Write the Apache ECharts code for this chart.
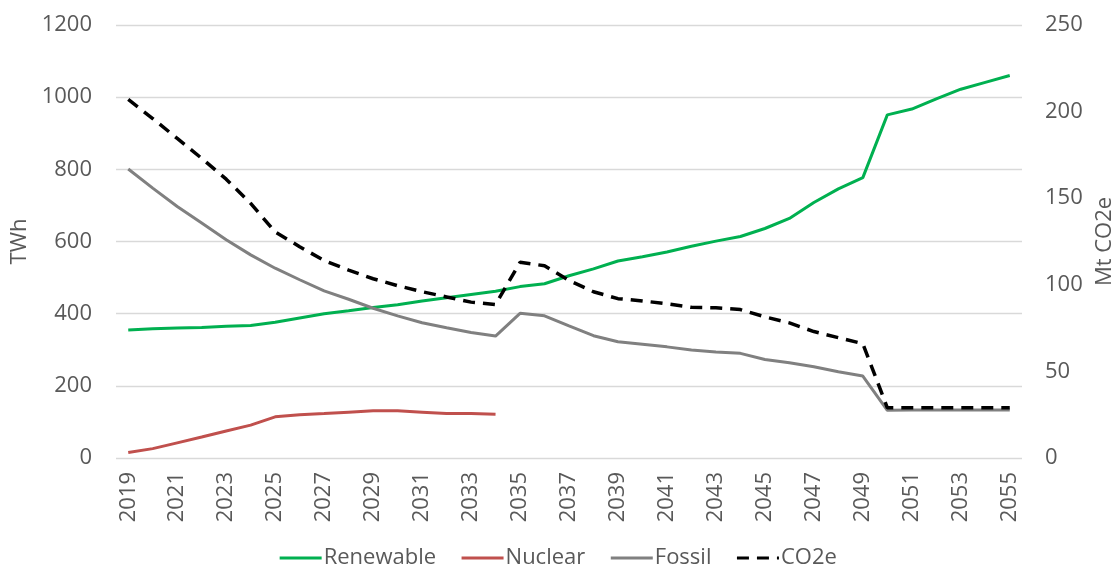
<!DOCTYPE html>
<html>
<head>
<meta charset="utf-8">
<script src="https://cdn.jsdelivr.net/npm/echarts@6/dist/echarts.min.js"></script>
<style>
html,body{margin:0;padding:0;background:#fff;}
#chart{width:1115px;height:567px;}
</style>
</head>
<body>
<div id="chart"></div>
<script>
const years = [];
for (let y = 2019; y <= 2055; y++) years.push(String(y));

const renewable = [355,358,360,362,365,367,376,388,400,408,417,425,435,444,453,462,475,483,505,524,546,558,571,587,601,614,636,664,708,746,777,951,967,995,1022,1041,1060];
const nuclear = [15,26,42,58,75,91,114,120,123,127,131,131,127,123,123,121,null,null,null,null,null,null,null,null,null,null,null,null,null,null,null,null,null,null,null,null,null];
const fossil = [801,748,697,651,605,563,526,494,463,440,415,394,375,361,348,338,401,394,366,339,322,315,308,299,294,290,273,264,253,239,227,132,133,133,133,133,133];
const co2e = [207,196,184.5,173,161,147,130.5,122,114,108.5,103.5,99.5,96,93,90,88.6,113,111,102.5,96,92,90.7,89,87,86.7,85.7,81.5,78,73,69.5,66,29,29,29,29,29,29];

const FONT = 'Open Sans';
const TXT = '#595959';
const FS = 22;

const chart = echarts.init(document.getElementById('chart'), null, {renderer: 'canvas'});
chart.setOption({
  animation: false,
  backgroundColor: '#ffffff',
  textStyle: {fontFamily: FONT},
  grid: {left: 116, right: 93, top: 25, bottom: 109, containLabel: false, outerBoundsMode: 'none'},
  legend: {
    top: 542,
    left: 'center',
    itemWidth: 42,
    itemHeight: 14,
    itemGap: 24,
    itemStyle: {opacity: 0},
    lineStyle: {width: 3},
    textStyle: {fontFamily: FONT, fontSize: FS, color: TXT, padding: [0,0,0,-3]},
    data: ['Renewable','Nuclear','Fossil','CO2e']
  },
  xAxis: {
    type: 'category',
    data: years,
    boundaryGap: true,
    axisLine: {show: false},
    axisTick: {show: false},
    axisLabel: {interval: 1, rotate: 90, fontFamily: FONT, fontSize: FS, color: TXT, margin: 14}
  },
  yAxis: [
    {
      type: 'value', min: 0, max: 1200, interval: 200,
      name: 'TWh', nameLocation: 'middle', nameGap: 76,
      nameTextStyle: {fontFamily: FONT, fontSize: FS, color: TXT},
      axisLine: {show: false}, axisTick: {show: false},
      axisLabel: {fontFamily: FONT, fontSize: FS, color: TXT, margin: 24, formatter: v => String(v)},
      splitLine: {lineStyle: {color: '#d9d9d9', width: 1.3}}
    },
    {
      type: 'value', min: 0, max: 250, interval: 50,
      name: 'Mt CO2e', nameLocation: 'middle', nameGap: 62,
      nameTextStyle: {fontFamily: FONT, fontSize: FS, color: TXT},
      axisLine: {show: false}, axisTick: {show: false},
      axisLabel: {fontFamily: FONT, fontSize: FS, color: TXT, margin: 23, formatter: v => String(v)},
      splitLine: {show: false}
    }
  ],
  series: [
    {name: 'Renewable', type: 'line', data: renewable, yAxisIndex: 0, symbol: 'none',
     lineStyle: {color: '#00b050', width: 3}, itemStyle: {color: '#00b050'}},
    {name: 'Nuclear', type: 'line', data: nuclear, yAxisIndex: 0, symbol: 'none',
     lineStyle: {color: '#c0504d', width: 3}, itemStyle: {color: '#c0504d'}},
    {name: 'Fossil', type: 'line', data: fossil, yAxisIndex: 0, symbol: 'none',
     lineStyle: {color: '#808080', width: 3}, itemStyle: {color: '#808080'}},
    {name: 'CO2e', type: 'line', data: co2e, yAxisIndex: 1, symbol: 'none',
     lineStyle: {color: '#000000', width: 3.5, type: [12, 8]}, itemStyle: {color: '#000000'}}
  ]
});
</script>
</body>
</html>
